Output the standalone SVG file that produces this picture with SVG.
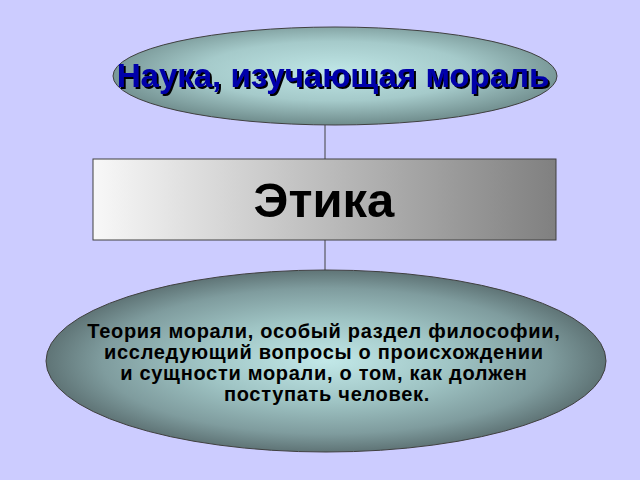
<svg xmlns="http://www.w3.org/2000/svg" width="640" height="480" viewBox="0 0 640 480">
<defs>
<radialGradient id="gTop" cx="0.5" cy="0.45" r="0.55">
<stop offset="0" stop-color="#bfe6e6"/>
<stop offset="0.55" stop-color="#a5caca"/>
<stop offset="1" stop-color="#6f8c8c"/>
</radialGradient>
<linearGradient id="gRect" x1="0" y1="0" x2="1" y2="0">
<stop offset="0" stop-color="#f8f8f8"/>
<stop offset="1" stop-color="#808080"/>
</linearGradient>
<radialGradient id="gBot" cx="0.5" cy="0.5" r="0.5">
<stop offset="0" stop-color="#c2e8e8"/>
<stop offset="0.45" stop-color="#9fc4c4"/>
<stop offset="0.8" stop-color="#7f9c9e"/>
<stop offset="1" stop-color="#5f7476"/>
</radialGradient>
<filter id="shadow" x="-5%" y="-20%" width="110%" height="150%">
<feOffset in="SourceAlpha" dx="2" dy="2" result="o"/>
<feFlood flood-color="#000000"/>
<feComposite in2="o" operator="in" result="s"/>
<feMerge><feMergeNode in="s"/><feMergeNode in="SourceGraphic"/></feMerge>
</filter>
<style>
.edge{stroke:#404040;stroke-width:1;fill:none}
.shape{stroke:#404040;stroke-width:1}
.t{font-family:"Liberation Sans",Arial,sans-serif;font-weight:bold;text-anchor:middle}
</style>
</defs>
<rect width="640" height="480" fill="#ccccff"/>
<g id="connectors">
<line class="edge" x1="325" y1="125" x2="325" y2="160"/>
<line class="edge" x1="325" y1="240" x2="325" y2="271"/>
</g>
<g id="node-science">
<ellipse class="shape" cx="335" cy="76" rx="222" ry="49" fill="url(#gTop)"/>
<text class="t" x="333" y="87" font-size="33" fill="#0000aa" filter="url(#shadow)">Наука, изучающая мораль</text>
</g>
<g id="node-ethics">
<rect class="shape" x="93" y="159" width="463" height="81" fill="url(#gRect)"/>
<text class="t" x="324" y="217" font-size="49" fill="#000000">Этика</text>
</g>
<g id="node-definition">
<ellipse class="shape" cx="326" cy="361" rx="280" ry="91" fill="url(#gBot)"/>
<text class="t" font-size="20" fill="#000000" letter-spacing="0.7">
<tspan x="327" y="338">Теория морали, особый раздел философии,</tspan>
<tspan x="327" y="359">исследующий вопросы о происхождении</tspan>
<tspan x="327" y="380">и сущности морали, о том, как должен</tspan>
<tspan x="327" y="401">поступать человек.</tspan>
</text>
</g>
</svg>
